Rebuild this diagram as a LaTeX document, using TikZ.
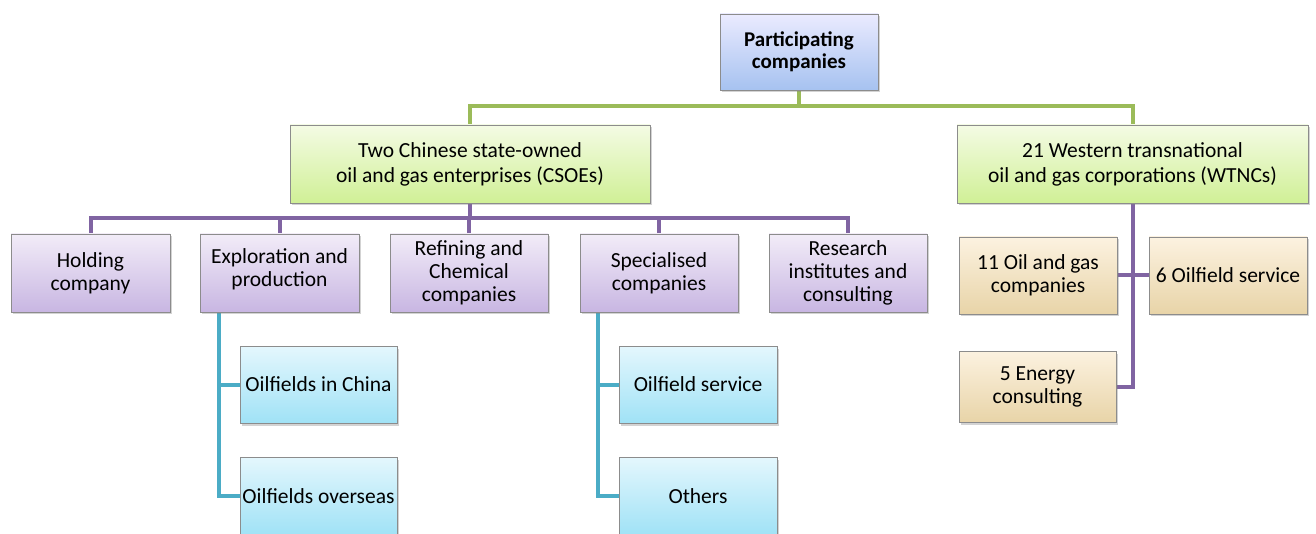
\documentclass[tikz,border=0pt]{standalone}
\usepackage{fontspec}
\setmainfont{Carlito}
\usetikzlibrary{shadows,backgrounds}
\definecolor{lgreen}{HTML}{9BBB59}
\definecolor{lpurple}{HTML}{8064A2}
\definecolor{lblue}{HTML}{4BACC6}
\definecolor{bordergray}{HTML}{8C8C8C}
\tikzset{
  txt/.style={align=center, inner sep=0pt, font=\fontsize{21.5}{23}\selectfont},
  box/.style={draw=bordergray, line width=0.8pt, inner sep=0pt, align=center,
    font=\fontsize{21.5}{23}\selectfont,
    drop shadow={shadow xshift=1.5pt, shadow yshift=-2.5pt, opacity=0.35}},
  topbox/.style={box, top color=blue!8!white, bottom color={rgb,255:red,166;green,194;blue,240}},
  greenbox/.style={box, top color={rgb,255:red,244;green,251;blue,228}, bottom color={rgb,255:red,208;green,240;blue,150}, font=\fontsize{21.5}{25}\selectfont},
  purplebox/.style={box, top color={rgb,255:red,242;green,236;blue,248}, bottom color={rgb,255:red,200;green,182;blue,226}},
  cyanbox/.style={box, top color={rgb,255:red,228;green,247;blue,253}, bottom color={rgb,255:red,160;green,226;blue,246}},
  beigebox/.style={box, top color={rgb,255:red,252;green,242;blue,224}, bottom color={rgb,255:red,232;green,212;blue,168}},
  gline/.style={draw=lgreen, line width=4pt},
  pline/.style={draw=lpurple, line width=4pt},
  bline/.style={draw=lblue, line width=4pt},
}
\begin{document}
\begin{tikzpicture}[x=1pt, y=-1pt]
\useasboundingbox (0,0) rectangle (1316,534);
% level 0
\node[topbox, minimum width=158pt, minimum height=76pt, font=\fontsize{21}{22}\selectfont\bfseries] (top) at (799,52) {Participating\\companies};
% level 1
\node[greenbox, minimum width=360pt, minimum height=78pt] (csoe) at (470,164) {Two Chinese state-owned\\oil and gas enterprises (CSOEs)};
\node[greenbox, minimum width=351pt, minimum height=78pt] (wtnc) at (1132.5,164) {21 Western transnational\\oil and gas corporations (WTNCs)};
% level 2 CSOE
\node[purplebox, minimum width=159pt, minimum height=78pt] (hold) at (90.5,273) {Holding\\company};
\node[purplebox, minimum width=159pt, minimum height=78pt] (ep) at (279.5,273) {};
\node[txt] (eptext) at ([yshift=4pt]ep.center) {Exploration and\\production};
\node[purplebox, minimum width=158pt, minimum height=78pt] (ref) at (469,273) {Refining and\\Chemical\\companies};
\node[purplebox, minimum width=158pt, minimum height=78pt] (spec) at (659,273) {Specialised\\companies};
\node[purplebox, minimum width=158pt, minimum height=78pt] (res) at (848,273) {Research\\institutes and\\consulting};
% level 3
\node[cyanbox, minimum width=157pt, minimum height=77pt] (oc) at (318.5,384.5) {Oilfields in China};
\node[cyanbox, minimum width=157pt, minimum height=78pt] (oo) at (318.5,496) {Oilfields overseas};
\node[cyanbox, minimum width=158pt, minimum height=77pt] (os) at (698,384.5) {Oilfield service};
\node[cyanbox, minimum width=158pt, minimum height=78pt] (ot) at (698,496) {Others};
% WTNC children
\node[beigebox, minimum width=158pt, minimum height=77pt] (oil) at (1038,275.5) {11 Oil and gas\\companies};
\node[beigebox, minimum width=158pt, minimum height=77pt] (svc) at (1228,275.5) {6 Oilfield service};
\node[beigebox, minimum width=157pt, minimum height=71pt] (en) at (1037.5,386.5) {5 Energy\\consulting};
% connectors
\begin{scope}[on background layer]
\coordinate (gj) at (799,106);
\draw[gline] (top.south) -- (gj);
\draw[gline] (gj) -| (csoe.north);
\draw[gline] (gj) -| (wtnc.north);
\coordinate (pj) at (470,218);
\draw[pline] (csoe.south) -- (pj);
\draw[pline] (pj) -| (hold.north);
\draw[pline] (pj) -| (ep.north);
\draw[pline] (pj) -| (ref.north);
\draw[pline] (pj) -| (spec.north);
\draw[pline] (pj) -| (res.north);
\draw[bline] ([xshift=19pt]ep.south west) |- (oc.west);
\draw[bline] ([xshift=19pt]ep.south west) |- (oo.west);
\draw[bline] ([xshift=18pt]spec.south west) |- (os.west);
\draw[bline] ([xshift=18pt]spec.south west) |- (ot.west);
\draw[pline] (wtnc.south) |- (oil.east);
\draw[pline] (wtnc.south) |- (svc.west);
\draw[pline] (wtnc.south) |- (en.east);
\end{scope}
\end{tikzpicture}
\end{document}
